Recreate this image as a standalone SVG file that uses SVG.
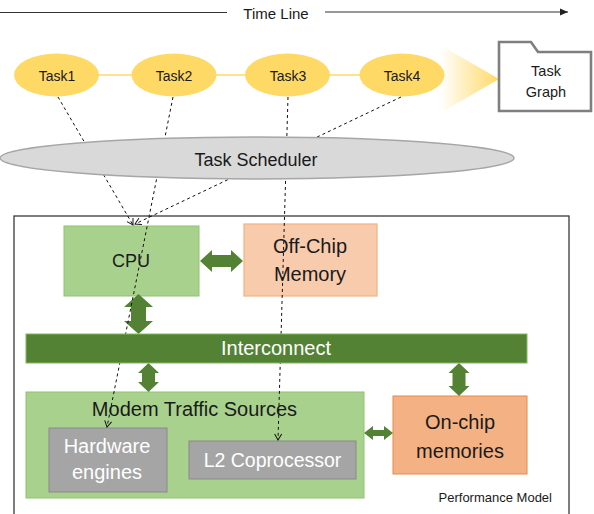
<svg xmlns="http://www.w3.org/2000/svg" width="594" height="514" viewBox="0 0 594 514">
<style>
text{font-family:"Liberation Sans",Arial,sans-serif;text-anchor:middle;fill:#1a1a1a}
.task{fill:#ffd966}
.dash{stroke:#111;stroke-width:1;stroke-dasharray:3,3;fill:none}
.garrow{fill:#548235}
.grey{fill:#a5a5a5;stroke:#8a8a8a;stroke-width:1}
.wt{fill:#ffffff}
</style>
<defs>
<marker id="open" markerUnits="userSpaceOnUse" markerWidth="10" markerHeight="10" refX="7" refY="4" orient="auto">
<path d="M1,0.5 L7,4 L1,7.5" fill="none" stroke="#111" stroke-width="1"/>
</marker>
<marker id="solid" markerUnits="userSpaceOnUse" markerWidth="10" markerHeight="10" refX="8" refY="4" orient="auto">
<path d="M0,0.5 L8,4 L0,7.5 Z" fill="#222"/>
</marker>
<linearGradient id="fade" x1="0" y1="0" x2="1" y2="0">
<stop offset="0" stop-color="#ffd966" stop-opacity="0"/>
<stop offset="1" stop-color="#ffd966" stop-opacity="1"/>
</linearGradient>
</defs>

<g id="timeline">
<line x1="0" y1="12.5" x2="227" y2="12.5" stroke="#333" stroke-width="1"/>
<text x="276" y="19" style="font-size:15px">Time Line</text>
<line x1="325" y1="12" x2="568" y2="12" stroke="#333" stroke-width="1" marker-end="url(#solid)"/>
</g>

<g id="task-chain">
<line x1="56" y1="75" x2="402" y2="75" stroke="#ffd966" stroke-width="1.5"/>
<polygon points="440,45 499,79 440,113" fill="url(#fade)"/>
</g>
<g id="task1"><ellipse class="task" cx="56.5" cy="75" rx="42.5" ry="21.5"/><text x="57" y="81" style="font-size:14px">Task1</text></g>
<g id="task2"><ellipse class="task" cx="174" cy="75" rx="42.5" ry="21.5"/><text x="174" y="81" style="font-size:14px">Task2</text></g>
<g id="task3"><ellipse class="task" cx="287.5" cy="75" rx="42.5" ry="21.5"/><text x="288" y="81" style="font-size:14px">Task3</text></g>
<g id="task4"><ellipse class="task" cx="402" cy="75" rx="42.5" ry="21.5"/><text x="402" y="81" style="font-size:14px">Task4</text></g>

<g id="task-graph">
<path d="M499,52 L499,111 L591,111 L591,52 L538,52 L531,42 L499,42 Z" fill="#fff" stroke="#7f7f7f" stroke-width="2.6" stroke-linejoin="miter"/>
<text x="546" y="76" style="font-size:14.5px">Task</text>
<text x="546" y="97" style="font-size:14.5px">Graph</text>
</g>

<g id="performance-model">
<rect x="14" y="216" width="555" height="320" fill="none" stroke="#3a3a3a" stroke-width="1.3"/>
<text x="552" y="502" style="font-size:13px;text-anchor:end">Performance Model</text>
</g>

<g id="cpu">
<rect x="64" y="226" width="135" height="70" fill="#a9d18e" stroke="#8cc46c" stroke-width="1"/>
<text x="131" y="267" style="font-size:18px">CPU</text>
</g>
<g id="offchip-memory">
<rect x="244" y="224" width="133" height="72" fill="#f8cbad" stroke="#f4b183" stroke-width="1.2"/>
<text x="310" y="253" style="font-size:20px">Off-Chip</text>
<text x="310" y="281" style="font-size:20px">Memory</text>
</g>
<g id="modem-traffic-sources">
<rect x="26" y="392" width="338" height="106" fill="#a9d18e" stroke="#8cc46c" stroke-width="1"/>
<text x="194.5" y="416" style="font-size:20px">Modem Traffic Sources</text>
</g>
<g id="hardware-engines">
<rect class="grey" x="49" y="428" width="118" height="64"/>
<text class="wt" x="107" y="453" style="font-size:20px">Hardware</text>
<text class="wt" x="107" y="479" style="font-size:20px">engines</text>
</g>
<g id="l2-coprocessor">
<rect class="grey" x="189" y="441" width="167" height="38"/>
<text class="wt" x="272.5" y="467" style="font-size:19.5px">L2 Coprocessor</text>
</g>
<g id="onchip-memories">
<rect x="393" y="396" width="134" height="78" fill="#f4b183" stroke="#e8894a" stroke-width="1"/>
<text x="460" y="429" style="font-size:20px">On-chip</text>
<text x="460" y="458" style="font-size:20px">memories</text>
</g>

<g id="links">
<polygon class="garrow" points="200,261 212,250 212,255 231,255 231,250 243,261 231,272 231,267 212,267 212,272"/>
<polygon class="garrow" points="138.5,294 153,307 146,307 146,321 153,321 138.5,334 124,321 131,321 131,307 124,307"/>
<polygon class="garrow" points="148.5,363 159,373 155,373 155,382 159,382 148.5,392 138,382 142,382 142,373 138,373"/>
<polygon class="garrow" points="459,363 469.5,373 465.5,373 465.5,386 469.5,386 459,396 448.5,386 452.5,386 452.5,373 448.5,373"/>
<polygon class="garrow" points="364,433 373,426 373,430 384,430 384,426 393,433 384,440 384,436 373,436 373,440"/>
</g>

<g id="connectors">
<line class="dash" x1="58" y1="97" x2="133" y2="225" marker-end="url(#open)"/>
<line class="dash" x1="173" y1="97" x2="107" y2="427" marker-end="url(#open)"/>
<line class="dash" x1="288" y1="97" x2="278" y2="440" marker-end="url(#open)"/>
<line class="dash" x1="401" y1="97" x2="135" y2="224" marker-end="url(#open)"/>
</g>

<g id="task-scheduler">
<ellipse cx="257" cy="158" rx="257" ry="21" fill="#d9d9d9" stroke="#a6a6a6" stroke-width="1.5"/>
<text x="256" y="166" style="font-size:18px">Task Scheduler</text>
</g>
<g id="interconnect">
<rect x="26" y="334" width="501" height="29" fill="#548235" stroke="#7fb95a" stroke-width="1"/>
<text class="wt" x="276" y="355" style="font-size:20px">Interconnect</text>
</g>
</svg>
